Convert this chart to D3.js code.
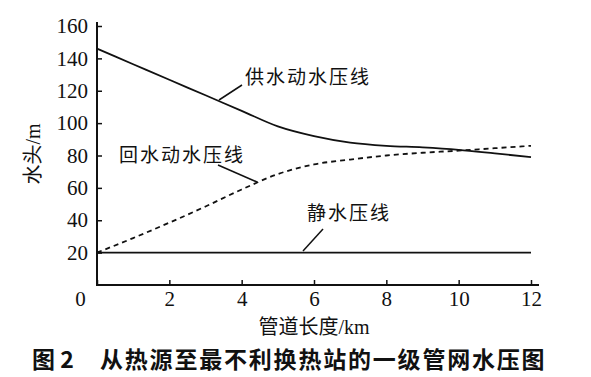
<!DOCTYPE html>
<html>
<head>
<meta charset="utf-8">
<script src="https://cdn.jsdelivr.net/npm/d3@7"></script>
<style>
  body { margin: 0; background: #fff; }
  svg { display: block; }
</style>
</head>
<body>
<div id="chart"></div>
<script>
const w = 591;
const h = 377;

// pipe length, km
const distance = [0, 1, 2, 3, 4, 5, 6, 7, 8, 9, 10, 11, 12];
// supply-side dynamic head, m
const supplyHead = [146, 136.4, 126.8, 117.2, 107.6, 98, 92, 88, 86, 85, 83.5, 81.3, 79];
// return-side dynamic head, m
const returnHead = [20, 29, 38.5, 48.5, 59, 68.5, 74.5, 77.5, 80, 81.7, 83, 84.5, 86];
// static head, m
const staticHead = [20, 20, 20, 20, 20, 20, 20, 20, 20, 20, 20, 20, 20];

const xTicks = [0, 2, 4, 6, 8, 10, 12];
const yTicks = [20, 40, 60, 80, 100, 120, 140, 160];

const serif = "'Liberation Serif', 'Times New Roman', 'Noto Sans CJK SC', serif";
const cjk = "'Noto Sans CJK SC', sans-serif";

var svg = d3.select("#chart")
    .append("svg")
    .attr("width", w)
    .attr("height", h);

var x = d3.scaleLinear().domain([0, 12]).range([97, 531]);
var y = d3.scaleLinear().domain([0, 160]).range([285, 26]);

// axes
var xAxis = svg.append("g")
    .attr("transform", "translate(0," + y(0) + ")")
    .call(d3.axisBottom(x).tickValues(xTicks).tickSizeInner(-5).tickSizeOuter(0).tickPadding(6));

var yAxis = svg.append("g")
    .attr("transform", "translate(" + x(0) + ",0)")
    .call(d3.axisLeft(y).tickValues(yTicks).tickSizeInner(-5).tickSizeOuter(0).tickPadding(9));

[xAxis, yAxis].forEach(function(a) {
    a.select(".domain").remove();
    a.selectAll(".tick line").attr("stroke", "#111").attr("stroke-width", 1.5);
    a.selectAll("text")
        .attr("fill", "#111")
        .style("font-family", serif)
        .style("font-size", "21px");
});

// the 0 sits left of the origin
xAxis.selectAll(".tick text").filter(function(d) { return d === 0; })
    .attr("x", -17);

// axis lines drawn a bit past the scale ends
svg.append("line")
    .attr("x1", x(0)).attr("x2", x(0))
    .attr("y1", y(0) + 1).attr("y2", 22)
    .attr("stroke", "#111").attr("stroke-width", 2);
svg.append("line")
    .attr("x1", x(0) - 1).attr("x2", 539)
    .attr("y1", y(0)).attr("y2", y(0))
    .attr("stroke", "#111").attr("stroke-width", 2);

var line = d3.line()
    .x(function(d) { return x(d[0]); })
    .y(function(d) { return y(d[1]); })
    .curve(d3.curveMonotoneX);

svg.append("path")
    .attr("d", line(d3.zip(distance, staticHead)))
    .attr("fill", "none").attr("stroke", "#111").attr("stroke-width", 1.6);

svg.append("path")
    .attr("d", line(d3.zip(distance, supplyHead)))
    .attr("fill", "none").attr("stroke", "#111").attr("stroke-width", 1.8);

svg.append("path")
    .attr("d", line(d3.zip(distance, returnHead)))
    .attr("fill", "none").attr("stroke", "#111").attr("stroke-width", 1.8)
    .attr("stroke-dasharray", "5,4");

// curve labels with leader lines
var labels = [
    { text: "供水动水压线", tx: 245, ty: 84, x1: 219, y1: 100, x2: 242, y2: 85 },
    { text: "回水动水压线", tx: 119, ty: 162, x1: 218, y1: 165, x2: 257, y2: 182 },
    { text: "静水压线", tx: 307, ty: 220, x1: 323, y1: 229, x2: 303, y2: 251 }
];

labels.forEach(function(l) {
    svg.append("line")
        .attr("x1", l.x1).attr("y1", l.y1)
        .attr("x2", l.x2).attr("y2", l.y2)
        .attr("stroke", "#111").attr("stroke-width", 1.5);
    svg.append("text")
        .attr("x", l.tx).attr("y", l.ty)
        .attr("fill", "#111")
        .style("font-family", cjk)
        .style("font-size", "19px")
        .style("letter-spacing", "2px")
        .text(l.text);
});

// axis titles
svg.append("text")
    .attr("transform", "translate(40,154) rotate(-90)")
    .attr("text-anchor", "middle")
    .attr("fill", "#111")
    .style("font-family", serif)
    .style("font-size", "20px")
    .text("水头/m");

svg.append("text")
    .attr("x", 314).attr("y", 334)
    .attr("text-anchor", "middle")
    .attr("fill", "#111")
    .style("font-family", serif)
    .style("font-size", "20px")
    .text("管道长度/km");

// figure caption
svg.append("text")
    .attr("x", 32).attr("y", 368)
    .attr("fill", "#111")
    .style("font-family", cjk)
    .style("font-size", "23px")
    .style("font-weight", "bold")
    .text("图 2");

svg.append("text")
    .attr("x", 100).attr("y", 368)
    .attr("fill", "#111")
    .style("font-family", cjk)
    .style("font-size", "23px")
    .style("font-weight", "bold")
    .style("letter-spacing", "1.8px")
    .text("从热源至最不利换热站的一级管网水压图");
</script>
</body>
</html>
